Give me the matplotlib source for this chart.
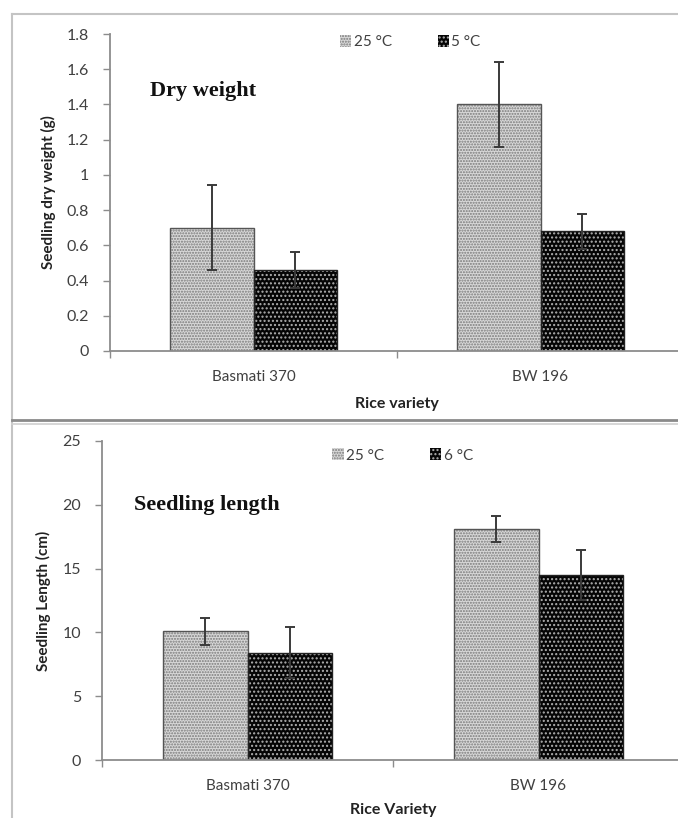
import numpy as np
import matplotlib.pyplot as plt
from matplotlib.lines import Line2D

plt.rcParams['font.family'] = ['Lato', 'DejaVu Sans']

# data
varieties = ['Basmati 370', 'BW 196']

dry_labels = ['25 °C', '5 °C']
dry_warm = [0.70, 1.40]
dry_warm_err = [0.24, 0.24]
dry_cold = [0.46, 0.68]
dry_cold_err = [0.10, 0.10]

len_labels = ['25 °C', '6 °C']
len_warm = [10.1, 18.1]
len_warm_err = [1.05, 1.0]
len_cold = [8.4, 14.5]
len_cold_err = [2.0, 1.95]

axis_col = '#8c8c8c'
text_col = '#404040'
W = 0.29

fig = plt.figure(figsize=(6.78, 8.18), dpi=100)


def panel(ax, warm, warm_err, cold, cold_err, labels, ymax, ystep, ylabel, xlabel, xlabelpad, title, title_xy, leg_xy):
    x = np.arange(len(varieties))
    # patterned fill, then a separate outline so the hatch colour can differ
    ax.bar(x - W / 2, warm, W, color='#d8d8d8', edgecolor='#7a7a7a', hatch='......', linewidth=0, label=labels[0])
    ax.bar(x + W / 2, cold, W, color='#050505', edgecolor='#b0b0b0', hatch='....', linewidth=0, label=labels[1])
    ax.bar(x - W / 2, warm, W, fill=False, edgecolor='#555555', linewidth=1.0)
    ax.bar(x + W / 2, cold, W, fill=False, edgecolor='#222222', linewidth=1.0)
    ax.errorbar(x - W / 2, warm, yerr=warm_err, fmt='none', ecolor='#3a3a3a', elinewidth=1.4, capsize=3.5, capthick=1.4)
    ax.errorbar(x + W / 2, cold, yerr=cold_err, fmt='none', ecolor='#3a3a3a', elinewidth=1.4, capsize=3.5, capthick=1.4)

    ax.set_xlim(-0.5, 1.5)
    ax.set_ylim(0, ymax)
    ax.set_yticks(np.arange(0, ymax + ystep / 2, ystep))
    ax.set_xticks([-0.5, 0.5, 1.5])
    ax.set_xticklabels([])
    ax.set_xticks(x, minor=True)
    ax.set_xticklabels(varieties, minor=True)
    ax.tick_params(axis='x', which='minor', length=0, pad=14, labelsize=11, labelcolor=text_col)
    ax.tick_params(axis='x', which='major', length=5, color=axis_col, width=1)
    ax.tick_params(axis='y', length=5, color=axis_col, width=1, pad=10, labelsize=11.5, labelcolor=text_col)
    for s in ['top', 'right']:
        ax.spines[s].set_visible(False)
    for s in ['left', 'bottom']:
        ax.spines[s].set_color(axis_col)
        ax.spines[s].set_linewidth(1.3)
    ax.set_ylabel(ylabel, fontsize=11, fontweight='bold', color='#222222', labelpad=8)
    ax.set_xlabel(xlabel, fontsize=11.5, fontweight='bold', color='#222222', labelpad=xlabelpad)
    ax.text(title_xy[0], title_xy[1], title, transform=ax.transAxes, family='Liberation Serif',
            fontweight='bold', fontsize=16, color='#111111', va='center', ha='left')
    ax.legend(loc='center left', bbox_to_anchor=leg_xy, ncol=2, frameon=False, fontsize=11,
              handlelength=0.75, handleheight=0.85, handletextpad=0.15, columnspacing=3.0,
              labelcolor=text_col, borderaxespad=0)
    return ax


ax1 = fig.add_axes([110 / 678, (818 - 351) / 818, 574 / 678, 317 / 818])
panel(ax1, dry_warm, dry_warm_err, dry_cold, dry_cold_err, dry_labels, 1.8, 0.2,
      'Seedling dry weight (g)', 'Rice variety', 9, 'Dry weight', (0.07, 0.82), (0.39, 0.975))
ax1.set_yticklabels(['0', '0.2', '0.4', '0.6', '0.8', '1', '1.2', '1.4', '1.6', '1.8'])

ax2 = fig.add_axes([102 / 678, (818 - 760) / 818, 582 / 678, 319 / 818])
panel(ax2, len_warm, len_warm_err, len_cold, len_cold_err, len_labels, 25, 5,
      'Seedling Length (cm)', 'Rice Variety', 7, 'Seedling length', (0.055, 0.80), (0.385, 0.955))

# screenshot frame lines
fig.add_artist(Line2D([12 / 678, 1], [1 - 14 / 818, 1 - 14 / 818], color='#c4c4c4', lw=1.5))
fig.add_artist(Line2D([12 / 678, 12 / 678], [0, 1 - 14 / 818], color='#c4c4c4', lw=1.5))
fig.add_artist(Line2D([12 / 678, 1], [1 - 420 / 818, 1 - 420 / 818], color='#8a8a8a', lw=2.0))
fig.add_artist(Line2D([12 / 678, 1], [1 - 423.5 / 818, 1 - 423.5 / 818], color='#d0d0d0', lw=1.2))

fig.savefig('out.png', dpi=100)
